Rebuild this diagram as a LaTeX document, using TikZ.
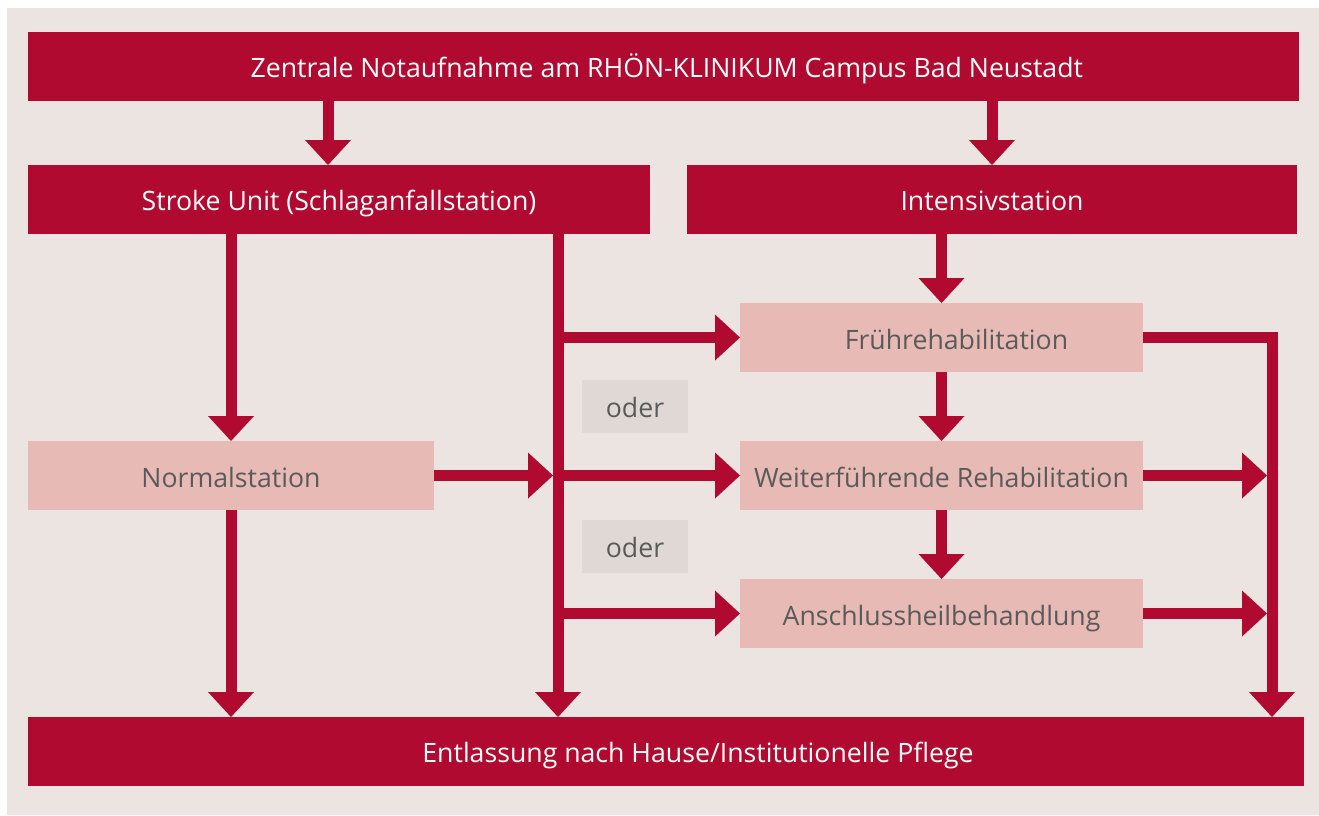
\documentclass[tikz,border=0pt]{standalone}
\usepackage{fontspec}
\setmainfont{Open Sans}
\usetikzlibrary{arrows.meta}

\definecolor{klinikred}{RGB}{177,10,48}
\definecolor{rehapink}{RGB}{232,186,181}
\definecolor{paper}{RGB}{236,228,225}
\definecolor{odergray}{RGB}{224,216,212}
\definecolor{labelgray}{RGB}{90,90,90}

\tikzset{every picture/.style={line width=0.75pt}}
\tikzset{
  redbar/.style={fill=klinikred, text=white, inner sep=0pt, outer sep=0pt, minimum height=51.75pt, text height=15.75pt, text depth=0pt, font=\fontsize{20}{24}\selectfont},
  pinkbox/.style={fill=rehapink, text=labelgray, inner sep=0pt, outer sep=0pt, minimum height=51.75pt, text height=18pt, text depth=0pt, font=\fontsize{20}{24}\selectfont},
  oderbox/.style={fill=odergray, text=labelgray, inner sep=0pt, outer sep=0pt, minimum width=79.5pt, minimum height=39.75pt, text height=17pt, text depth=0pt, font=\fontsize{20}{24}\selectfont},
  flow/.style={draw=klinikred, line width=8.25pt, line join=miter, -{Triangle[width=34.5pt,length=18.75pt,line width=0pt]}},
}

\begin{document}
\begin{tikzpicture}[x=0.75pt,y=0.75pt,yscale=-1,xscale=1]
%Background
\path [fill=white] (0,0) rectangle (1319,815);
\path [fill=paper] (7,8) rectangle (1319,815);

% Bars
\node [redbar, minimum width=953.25pt] (zna) at (663.5,66.5) {\hspace*{5pt}Zentrale Notaufnahme am RHÖN-KLINIKUM Campus Bad Neustadt};
\node [redbar, minimum width=466.5pt] (stroke) at (339,199.5) {Stroke Unit (Schlaganfallstation)};
\node [redbar, minimum width=457.5pt] (intensiv) at (992,199.5) {Intensivstation};
\node [redbar, minimum width=957pt] (entl) at (666,751.5) {\hspace*{48pt}Entlassung nach Hause/Institutionelle Pflege};

% Stations
\node [pinkbox, minimum width=304.5pt] (normal) at (231,475.5) {Normalstation};
\node [pinkbox, minimum width=302.25pt] (frueh) at (941.5,337.5) {\hspace*{22.5pt}Frührehabilitation};
\node [pinkbox, minimum width=302.25pt] (weiter) at (941.5,475.5) {Weiterführende Rehabilitation};
\node [pinkbox, minimum width=302.25pt] (anschl) at (941.5,613.5) {Anschlussheilbehandlung};

% oder
\node [oderbox] (oder1) at (635,406.5) {oder};
\node [oderbox] (oder2) at (635,546.5) {oder};

\coordinate (trunk) at (558,234);
\coordinate (rail) at (1272,337.5);

% Connectors
\draw [flow] ([xshift=-8.25pt]zna.south -| stroke.north) -- ([xshift=-8.25pt]stroke.north);
\draw [flow] (zna.south -| intensiv.north) -- (intensiv.north);
\draw [flow] (stroke.south -| normal.north) -- (normal.north);
\draw [flow] (normal.south) -- (normal.south |- entl.north);
\draw [flow] (trunk) -- (trunk |- entl.north);
\draw [flow] (trunk |- frueh.west) -- (frueh.west);
\draw [flow] (trunk |- weiter.west) -- (weiter.west);
\draw [flow] (trunk |- anschl.west) -- (anschl.west);
\draw [flow, shorten >=3.75pt] (normal.east) -- (normal.east -| trunk);
\draw [flow] (intensiv.south -| frueh.north) -- (frueh.north);
\draw [flow] (frueh.south) -- (weiter.north);
\draw [flow] (weiter.south) -- (anschl.north);
\draw [flow] (frueh.east) -- (rail) -- (rail |- entl.north);
\draw [flow, shorten >=3.75pt] (weiter.east) -- (weiter.east -| rail);
\draw [flow, shorten >=3.75pt] (anschl.east) -- (anschl.east -| rail);
\end{tikzpicture}
\end{document}
